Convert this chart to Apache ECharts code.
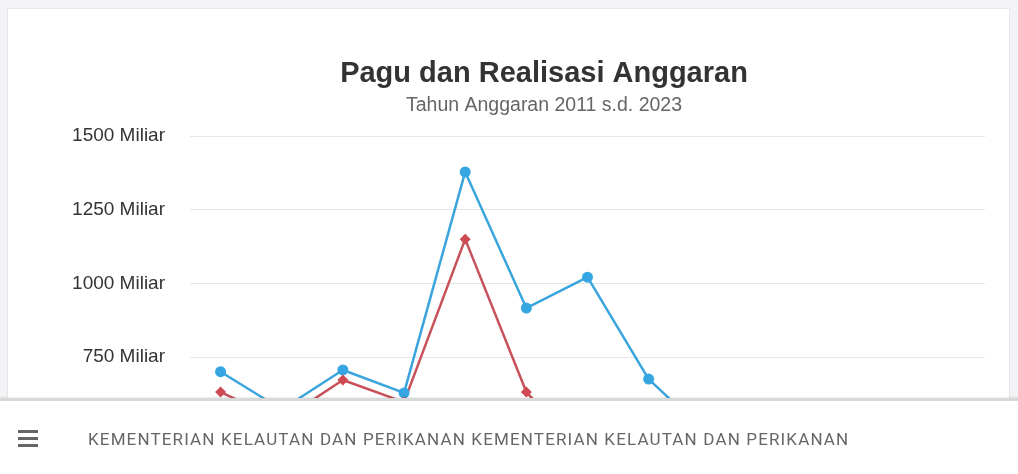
<!DOCTYPE html>
<html>
<head>
<meta charset="utf-8">
<script src="https://cdn.jsdelivr.net/npm/echarts@6/dist/echarts.min.js"></script>
<style>
html,body{margin:0;padding:0;width:1018px;height:474px;overflow:hidden;background:#f3f3f5;font-family:"Liberation Sans",Arial,sans-serif;}
#card{position:absolute;left:7px;top:8px;width:1003px;height:700px;background:#fff;border:1px solid #e6e6ea;box-sizing:border-box;}
#chart{position:absolute;left:0;top:0;width:1018px;height:620px;}
#bar{position:absolute;left:0;top:398px;width:1018px;height:76px;background:#fff;border-top:3px solid #d8d8d8;box-shadow:0 -1px 2px rgba(0,0,0,0.08);box-sizing:border-box;}
#burger{position:absolute;left:18px;top:29px;width:20px;}
#burger div{height:3px;background:#666;margin-bottom:4px;}
#bartext{position:absolute;left:88px;top:28px;font-family:Roboto,sans-serif;font-size:17px;letter-spacing:1.15px;color:#666;white-space:nowrap;}
</style>
</head>
<body>
<div id="card"></div>
<div id="chart"></div>
<div id="bar"><div id="burger"><div></div><div></div><div></div></div><div id="bartext">KEMENTERIAN KELAUTAN DAN PERIKANAN KEMENTERIAN KELAUTAN DAN PERIKANAN</div></div>
<script>
const years = ['2011','2012','2013','2014','2015','2016','2017','2018','2019','2020','2021','2022','2023'];
const pagu = [700, 572, 706, 628, 1378, 916, 1021, 675, 480, 460, 520, 430, 450];
const realisasi = [631, 535, 672, 597, 1150, 631, 410, 560, 440, 420, 480, 400, 300];
const titleText = 'Pagu dan Realisasi Anggaran';
const subtitleText = 'Tahun Anggaran 2011 s.d. 2023';

const chart = echarts.init(document.getElementById('chart'), null, {renderer:'canvas'});
chart.setOption({
  animation:false,
  title:[
    {text:titleText, left:539, top:54, textAlign:'center',
     textStyle:{fontFamily:'Liberation Sans', fontSize:29, fontWeight:'bold', color:'#333'}},
    {text:subtitleText, left:539, top:91, textAlign:'center',
     textStyle:{fontFamily:'Liberation Sans', fontSize:19.5, fontWeight:'normal', color:'#666'}}
  ],
  grid:{left:190, right:33, top:136, bottom:42},
  xAxis:{type:'category', data:years, boundaryGap:true,
    axisLine:{lineStyle:{color:'#ccd6eb'}}, axisTick:{show:false},
    axisLabel:{color:'#666', fontSize:13}},
  yAxis:{type:'value', min:0, max:1500, interval:250,
    axisLabel:{formatter:v=>v+' Miliar', color:'#333', fontSize:19, fontFamily:'Liberation Sans', margin:25},
    splitLine:{lineStyle:{color:'#e6e6e6', width:1}}},
  series:[
    {name:'Pagu', type:'line', data:pagu, symbol:'circle', symbolSize:11,
     itemStyle:{color:'#35a6e2'}, lineStyle:{color:'#3aa5dc', width:2.5}},
    {name:'Realisasi', type:'line', data:realisasi, symbol:'diamond', symbolSize:11,
     itemStyle:{color:'#cf4a52'}, lineStyle:{color:'#c9515a', width:2.5}}
  ]
});
</script>
</body>
</html>
